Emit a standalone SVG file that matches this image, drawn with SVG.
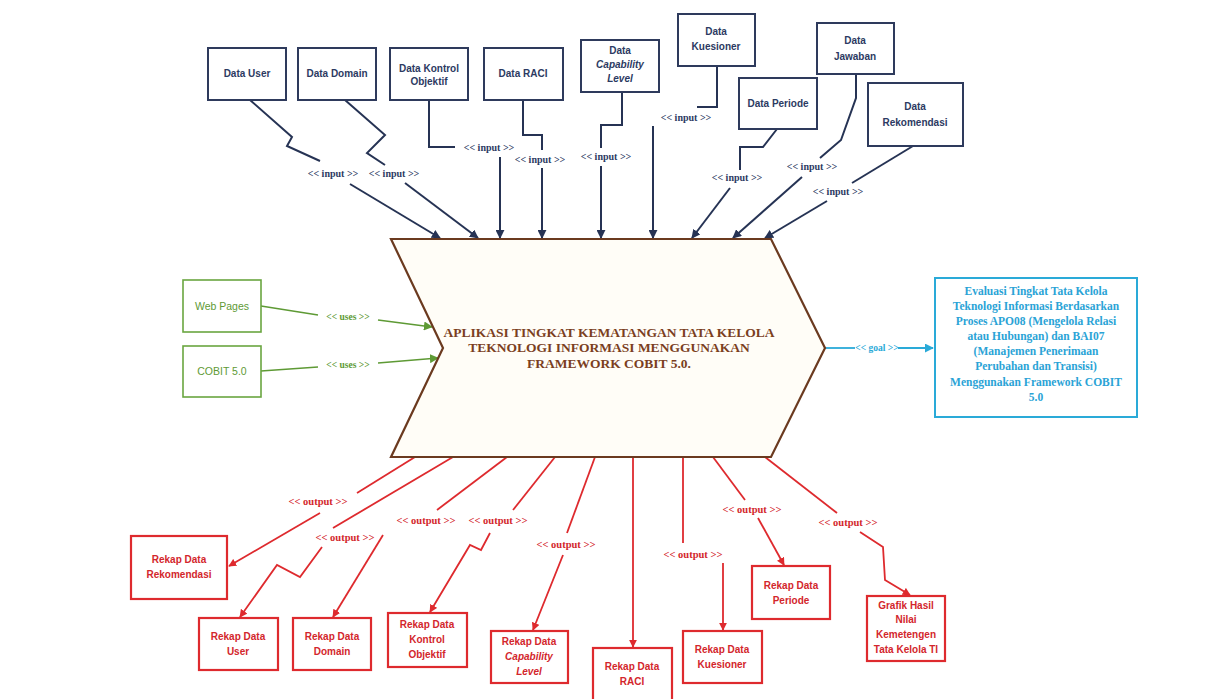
<svg xmlns="http://www.w3.org/2000/svg" width="1211" height="699" viewBox="0 0 1211 699">
<defs>
<marker id="an" viewBox="0 0 10 10" refX="9" refY="5" markerWidth="9" markerHeight="9" markerUnits="userSpaceOnUse" orient="auto"><path d="M0,0 L10,5 L0,10 z" fill="#263354"/></marker>
<marker id="ar" viewBox="0 0 10 10" refX="9" refY="5" markerWidth="8" markerHeight="8" markerUnits="userSpaceOnUse" orient="auto"><path d="M0,0 L10,5 L0,10 z" fill="#de2a2e"/></marker>
<marker id="ag" viewBox="0 0 10 10" refX="9" refY="5" markerWidth="9" markerHeight="9" markerUnits="userSpaceOnUse" orient="auto"><path d="M0,0 L10,5 L0,10 z" fill="#5e9a35"/></marker>
<marker id="ac" viewBox="0 0 10 10" refX="9" refY="5" markerWidth="9" markerHeight="9" markerUnits="userSpaceOnUse" orient="auto"><path d="M0,0 L10,5 L0,10 z" fill="#2aaad8"/></marker>
</defs>
<style>
.nb{fill:#ffffff;stroke:#2e3a5c;stroke-width:2}
.nt{font-family:"Liberation Sans",Arial,sans-serif;font-weight:bold;font-size:10px;fill:#2c3a62;text-anchor:middle}
.rb{fill:#ffffff;stroke:#de2a2e;stroke-width:2.2}
.rt{font-family:"Liberation Sans",Arial,sans-serif;font-weight:bold;font-size:10px;fill:#d3262c;text-anchor:middle}
.gb{fill:#ffffff;stroke:#6aa640;stroke-width:1.6}
.gt{font-family:"Liberation Sans",Arial,sans-serif;font-size:10.5px;fill:#5e9a35;text-anchor:middle}
.cn{fill:none;stroke:#263354;stroke-width:2}
.cr{fill:none;stroke:#de2a2e;stroke-width:1.8}
.cg{fill:none;stroke:#5e9a35;stroke-width:1.6}
.cc{fill:none;stroke:#2aaad8;stroke-width:1.8}
.ln{font-family:"Liberation Serif","Times New Roman",serif;font-weight:bold;font-size:10px;fill:#2c3a62;text-anchor:middle}
.lr{font-family:"Liberation Serif","Times New Roman",serif;font-weight:bold;font-size:10.5px;fill:#d3262c;text-anchor:middle}
.lg{font-family:"Liberation Serif","Times New Roman",serif;font-weight:bold;font-size:9.5px;fill:#5e9a35;text-anchor:middle}
.lc{font-family:"Liberation Serif","Times New Roman",serif;font-weight:bold;font-size:9.5px;fill:#2aaad8;text-anchor:middle}
.mt{font-family:"Liberation Serif","Times New Roman",serif;font-weight:bold;font-size:13.5px;fill:#7b3f1e;text-anchor:middle}
.ct{font-family:"Liberation Serif","Times New Roman",serif;font-weight:bold;font-size:11.5px;fill:#2aa3d6;text-anchor:middle}
.it{font-style:italic}
</style>
<rect width="1211" height="699" fill="#ffffff"/>

<g id="connectors">
<path class="cn" d="M250,100 L292,137 L287,146 L320,161"/><path class="cn" d="M350,184 L440,238" marker-end="url(#an)"/>
<path class="cn" d="M345,100 L385,135 L367,153 L385,165"/><path class="cn" d="M405,183 L478,238" marker-end="url(#an)"/>
<path class="cn" d="M429,100 L429,147 L455,147"/><path class="cn" d="M500,157 L500,238" marker-end="url(#an)"/>
<path class="cn" d="M523,100 L523,135 L542,135 L542,150"/><path class="cn" d="M542,168 L542,238" marker-end="url(#an)"/>
<path class="cn" d="M622,92 L622,125 L601,125 L601,148"/><path class="cn" d="M601,166 L601,238" marker-end="url(#an)"/>
<path class="cn" d="M717,66 L717,107 L697,107"/><path class="cn" d="M653,126 L653,238" marker-end="url(#an)"/>
<path class="cn" d="M777,129 L763,147 L740,147 L740,170"/><path class="cn" d="M730,188 L692,238" marker-end="url(#an)"/>
<path class="cn" d="M856,74 L856,98 L841,140 L820,158"/><path class="cn" d="M802,177 L733,238" marker-end="url(#an)"/>
<path class="cn" d="M913,146 L852,183"/><path class="cn" d="M827,201 L765,238" marker-end="url(#an)"/>

<text class="ln" x="333" y="177">&lt;&lt; input &gt;&gt;</text>
<text class="ln" x="394" y="177">&lt;&lt; input &gt;&gt;</text>
<text class="ln" x="489" y="151">&lt;&lt; input &gt;&gt;</text>
<text class="ln" x="540" y="163">&lt;&lt; input &gt;&gt;</text>
<text class="ln" x="606" y="160">&lt;&lt; input &gt;&gt;</text>
<text class="ln" x="686" y="121">&lt;&lt; input &gt;&gt;</text>
<text class="ln" x="737" y="181">&lt;&lt; input &gt;&gt;</text>
<text class="ln" x="812" y="170">&lt;&lt; input &gt;&gt;</text>
<text class="ln" x="838" y="195">&lt;&lt; input &gt;&gt;</text>

<path class="cg" d="M261,306 L318,315"/><path class="cg" d="M378,320 L432,327" marker-end="url(#ag)"/>
<text class="lg" x="348" y="320">&lt;&lt; uses &gt;&gt;</text>
<path class="cg" d="M261,371 L318,367"/><path class="cg" d="M378,363 L438,358" marker-end="url(#ag)"/>
<text class="lg" x="348" y="368">&lt;&lt; uses &gt;&gt;</text>

<path class="cc" d="M825,348 L855,348"/><path class="cc" d="M898,348 L933,348" marker-end="url(#ac)"/>
<text class="lc" x="877" y="351">&lt;&lt; goal &gt;&gt;</text>

<path class="cr" d="M415,457 L357,493"/><path class="cr" d="M320,513 L229,566" marker-end="url(#ar)"/>
<path class="cr" d="M453,457 L333,528"/><path class="cr" d="M322,547 L300,577 L277,565 L240,617" marker-end="url(#ar)"/>
<path class="cr" d="M507,457 L437,510"/><path class="cr" d="M383,535 L333,617" marker-end="url(#ar)"/>
<path class="cr" d="M555,457 L513,510"/><path class="cr" d="M490,533 L481,550 L470,545 L430,612" marker-end="url(#ar)"/>
<path class="cr" d="M595,457 L567,533"/><path class="cr" d="M563,555 L533,630" marker-end="url(#ar)"/>
<path class="cr" d="M633,457 L633,647" marker-end="url(#ar)"/>
<path class="cr" d="M683,457 L683,543"/><path class="cr" d="M723,563 L723,630" marker-end="url(#ar)"/>
<path class="cr" d="M713,457 L745,500"/><path class="cr" d="M758,518 L784,565" marker-end="url(#ar)"/>
<path class="cr" d="M765,457 L837,513"/><path class="cr" d="M860,532 L883,547 L885,580 L910,595" marker-end="url(#ar)"/>

<text class="lr" x="318" y="505">&lt;&lt; output &gt;&gt;</text>
<text class="lr" x="345" y="541">&lt;&lt; output &gt;&gt;</text>
<text class="lr" x="426" y="524">&lt;&lt; output &gt;&gt;</text>
<text class="lr" x="498" y="524">&lt;&lt; output &gt;&gt;</text>
<text class="lr" x="566" y="548">&lt;&lt; output &gt;&gt;</text>
<text class="lr" x="693" y="558">&lt;&lt; output &gt;&gt;</text>
<text class="lr" x="752" y="513">&lt;&lt; output &gt;&gt;</text>
<text class="lr" x="848" y="526">&lt;&lt; output &gt;&gt;</text>
</g>

<g id="main">
<path d="M391,239 L771,239 L825,348 L771,457 L391,457 L443,348 Z" fill="#fffdf7" stroke="#6b3a1f" stroke-width="2.2"/>
<text class="mt" x="609" y="337">APLIKASI TINGKAT KEMATANGAN TATA KELOLA</text>
<text class="mt" x="609" y="352">TEKNOLOGI INFORMASI MENGGUNAKAN</text>
<text class="mt" x="609" y="368">FRAMEWORK COBIT 5.0.</text>
</g>

<g id="data-user"><rect class="nb" x="208" y="48" width="78" height="52"/><text class="nt" x="247" y="77">Data User</text></g>
<g id="data-domain"><rect class="nb" x="298" y="48" width="78" height="52"/><text class="nt" x="337" y="77">Data Domain</text></g>
<g id="data-kontrol"><rect class="nb" x="390" y="48" width="78" height="52"/><text class="nt" x="429" y="72">Data Kontrol</text><text class="nt" x="429" y="85">Objektif</text></g>
<g id="data-raci"><rect class="nb" x="484" y="48" width="79" height="52"/><text class="nt" x="523" y="77">Data RACI</text></g>
<g id="data-capability"><rect class="nb" x="581" y="40" width="78" height="52"/><text class="nt" x="620" y="54">Data</text><text class="nt it" x="620" y="68">Capability</text><text class="nt it" x="620" y="82">Level</text></g>
<g id="data-kuesioner"><rect class="nb" x="678" y="14" width="77" height="52"/><text class="nt" x="716" y="35">Data</text><text class="nt" x="716" y="50">Kuesioner</text></g>
<g id="data-periode"><rect class="nb" x="739" y="78" width="78" height="51"/><text class="nt" x="778" y="107">Data Periode</text></g>
<g id="data-jawaban"><rect class="nb" x="817" y="23" width="77" height="51"/><text class="nt" x="855" y="44">Data</text><text class="nt" x="855" y="60">Jawaban</text></g>
<g id="data-rekomendasi"><rect class="nb" x="868" y="83" width="95" height="63"/><text class="nt" x="915" y="110">Data</text><text class="nt" x="915" y="126">Rekomendasi</text></g>

<g id="web-pages"><rect class="gb" x="183" y="280" width="78" height="52"/><text class="gt" x="222" y="310">Web Pages</text></g>
<g id="cobit"><rect class="gb" x="183" y="346" width="78" height="51"/><text class="gt" x="222" y="375">COBIT 5.0</text></g>

<g id="goal"><rect x="935" y="278" width="202" height="139" fill="#ffffff" stroke="#2aaad8" stroke-width="2"/>
<text class="ct" x="1036" y="295">Evaluasi Tingkat Tata Kelola</text>
<text class="ct" x="1036" y="310">Teknologi Informasi Berdasarkan</text>
<text class="ct" x="1036" y="325">Proses APO08 (Mengelola Relasi</text>
<text class="ct" x="1036" y="340">atau Hubungan) dan BAI07</text>
<text class="ct" x="1036" y="355">(Manajemen Penerimaan</text>
<text class="ct" x="1036" y="370">Perubahan dan Transisi)</text>
<text class="ct" x="1036" y="386">Menggunakan Framework COBIT</text>
<text class="ct" x="1036" y="401">5.0</text>
</g>

<g id="rekap-rekomendasi"><rect class="rb" x="131" y="536" width="96" height="63"/><text class="rt" x="179" y="563">Rekap Data</text><text class="rt" x="179" y="578">Rekomendasi</text></g>
<g id="rekap-user"><rect class="rb" x="199" y="618" width="79" height="52"/><text class="rt" x="238" y="640">Rekap Data</text><text class="rt" x="238" y="655">User</text></g>
<g id="rekap-domain"><rect class="rb" x="293" y="618" width="78" height="52"/><text class="rt" x="332" y="640">Rekap Data</text><text class="rt" x="332" y="655">Domain</text></g>
<g id="rekap-kontrol"><rect class="rb" x="388" y="613" width="79" height="54"/><text class="rt" x="427" y="628">Rekap Data</text><text class="rt" x="427" y="643">Kontrol</text><text class="rt" x="427" y="658">Objektif</text></g>
<g id="rekap-capability"><rect class="rb" x="491" y="631" width="77" height="52"/><text class="rt" x="529" y="645">Rekap Data</text><text class="rt it" x="529" y="660">Capability</text><text class="rt it" x="529" y="675">Level</text></g>
<g id="rekap-raci"><rect class="rb" x="593" y="648" width="79" height="54"/><text class="rt" x="632" y="670">Rekap Data</text><text class="rt" x="632" y="685">RACI</text></g>
<g id="rekap-kuesioner"><rect class="rb" x="683" y="631" width="79" height="52"/><text class="rt" x="722" y="653">Rekap Data</text><text class="rt" x="722" y="668">Kuesioner</text></g>
<g id="rekap-periode"><rect class="rb" x="752" y="566" width="78" height="53"/><text class="rt" x="791" y="589">Rekap Data</text><text class="rt" x="791" y="604">Periode</text></g>
<g id="grafik"><rect class="rb" x="867" y="596" width="78" height="65"/><text class="rt" x="906" y="609">Grafik Hasil</text><text class="rt" x="906" y="623">Nilai</text><text class="rt" x="906" y="638">Kemetengen</text><text class="rt" x="906" y="653">Tata Kelola TI</text></g>
</svg>
